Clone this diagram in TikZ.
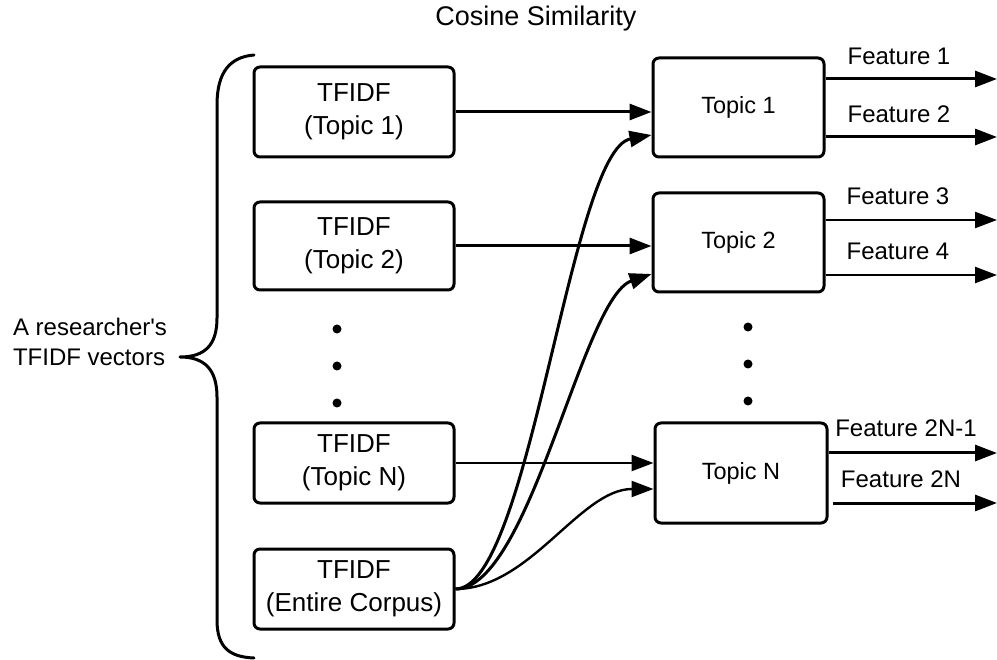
\documentclass[tikz,border=0pt]{standalone}
\usepackage{fontspec}
\setmainfont{Liberation Sans}
\usetikzlibrary{arrows.meta,calc}

\begin{document}
\begin{tikzpicture}[x=1pt,y=-1pt,
  vecbox/.style={draw,line width=3pt,rounded corners=6pt,minimum width=200pt,
    inner sep=0pt,align=center,font=\fontsize{26}{33}\selectfont},
  topicbox/.style={draw,line width=3pt,rounded corners=6pt,minimum width=171pt,
    minimum height=99pt,inner sep=0pt,font=\fontsize{23.5}{28}\selectfont},
  flabel/.style={inner sep=0pt,font=\fontsize{24}{28}\selectfont},
  arr/.style={line width=3pt,-{Triangle[length=22pt,width=16pt]}},
  thinarr/.style={arr,line width=2.4pt},
  bracepath/.style={line width=3pt,line cap=round,line join=round},
  dotmark/.style={fill=black}]

\useasboundingbox (0,0) rectangle (997,660);

% title
\node[inner sep=0pt,font=\fontsize{27}{30}\selectfont] (title) at (536,19) {Cosine Similarity};

% brace label
\node[inner sep=0pt,align=left,font=\fontsize{24}{30}\selectfont] (blabel) at (90,342)
  {A researcher\textquotesingle s\\TFIDF vectors};

% brace grouping the vectors
\draw[bracepath] (254,55) .. controls (230,57) and (217,72) .. (217,105)
  -- (217,318) .. controls (217,345) and (205,357) .. (180,357)
  .. controls (205,357) and (217,370) .. (217,397)
  -- (217,620) .. controls (217,648) and (230,657) .. (254,658);

% TFIDF vector boxes
\node[vecbox,minimum height=90pt] (t1) at (354,112) {TFIDF\\(Topic 1)};
\node[vecbox,minimum height=88pt] (t2) at (354,246) {TFIDF\\(Topic 2)};
\node[vecbox,minimum height=80pt] (tn) at (354,463) {TFIDF\\(Topic N)};
\node[vecbox,minimum height=80pt] (tc) at (354,589) {TFIDF\\(Entire Corpus)};

% topic boxes
\node[topicbox] (p1) at (738.5,107.5) {Topic 1};
\node[topicbox] (p2) at (738.5,242.5) {Topic 2};
\node[topicbox,minimum width=172pt,minimum height=100pt] (pn) at (741,473) {Topic N};

% vertical ellipses
\foreach \y in {329,366,403} \fill[dotmark] (337,\y) circle (4.5pt);
\foreach \y in {327,364,401} \fill[dotmark] (748,\y) circle (4.5pt);

% topic vectors into topic boxes
\draw[arr] (t1.east) -- (t1.east -| p1.west);
\draw[arr] (t2.east) -- (t2.east -| p2.west);
\draw[thinarr] (tn.east) -- (tn.east -| pn.west);

% corpus vector into every topic box
\draw[arr] (tc.east) .. controls (530,589) and (570,150) .. ($(p1.west)+(0,27.5)$);
\draw[arr] (tc.east) .. controls (530,589) and (582,298) .. ($(p2.west)+(0,31.5)$);
\draw[thinarr] (tc.east) .. controls (530,589) and (580,489) .. ($(pn.west)+(0,16)$);

% feature outputs
\coordinate (f1) at (997,79);
\coordinate (f2) at (997,137);
\coordinate (f3) at (997,220);
\coordinate (f4) at (997,275);
\coordinate (f5) at (997,453);
\coordinate (f6) at (997,503);
\draw[arr] (f1 -| p1.east) -- (f1);
\draw[arr] (f2 -| p1.east) -- (f2);
\draw[thinarr] (f3 -| p2.east) -- (f3);
\draw[thinarr] (f4 -| p2.east) -- (f4);
\draw[arr] (f5 -| pn.east) -- (f5);
\draw[arr] ($(f6 -| pn.east)+(4,0)$) -- (f6);

\node[flabel] (l1) at (899,56) {Feature 1};
\node[flabel] (l2) at (899,114) {Feature 2};
\node[flabel] (l3) at (898,196) {Feature 3};
\node[flabel] (l4) at (898,251) {Feature 4};
\node[flabel] (l5) at (906,428) {Feature 2N-1};
\node[flabel] (l6) at (901,479) {Feature 2N};

\end{tikzpicture}
\end{document}
